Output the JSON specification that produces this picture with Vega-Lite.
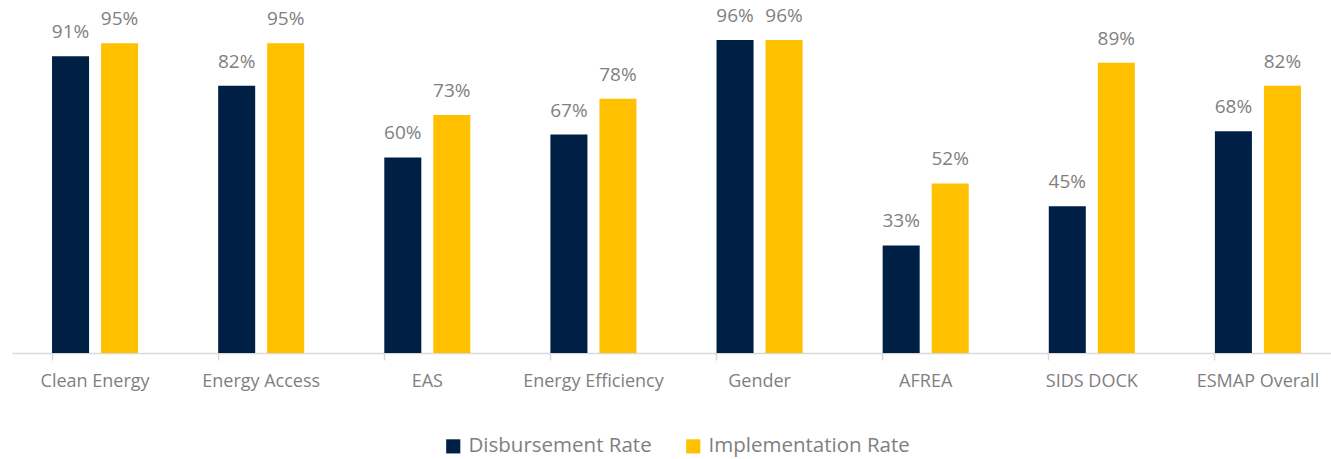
{
  "$schema": "https://vega.github.io/schema/vega-lite/v6.json",
  "width": 1329,
  "height": 326,
  "autosize": {"type": "none"},
  "padding": {"left": 12, "top": 27, "right": 0, "bottom": 106},
  "background": "white",
  "config": {"view": {"stroke": null}, "font": "Open Sans"},
  "data": {"values": [
    {"cat": "Clean Energy", "series": "Disbursement Rate", "v": 0.91},
    {"cat": "Clean Energy", "series": "Implementation Rate", "v": 0.95},
    {"cat": "Energy Access", "series": "Disbursement Rate", "v": 0.82},
    {"cat": "Energy Access", "series": "Implementation Rate", "v": 0.95},
    {"cat": "EAS", "series": "Disbursement Rate", "v": 0.60},
    {"cat": "EAS", "series": "Implementation Rate", "v": 0.73},
    {"cat": "Energy Efficiency", "series": "Disbursement Rate", "v": 0.67},
    {"cat": "Energy Efficiency", "series": "Implementation Rate", "v": 0.78},
    {"cat": "Gender", "series": "Disbursement Rate", "v": 0.96},
    {"cat": "Gender", "series": "Implementation Rate", "v": 0.96},
    {"cat": "AFREA", "series": "Disbursement Rate", "v": 0.33},
    {"cat": "AFREA", "series": "Implementation Rate", "v": 0.52},
    {"cat": "SIDS DOCK", "series": "Disbursement Rate", "v": 0.45},
    {"cat": "SIDS DOCK", "series": "Implementation Rate", "v": 0.89},
    {"cat": "ESMAP Overall", "series": "Disbursement Rate", "v": 0.68},
    {"cat": "ESMAP Overall", "series": "Implementation Rate", "v": 0.82}
  ]},
  "encoding": {
    "x": {"field": "cat", "type": "nominal", "sort": null,
      "scale": {"paddingInner": 0.482, "paddingOuter": 0.241},
      "axis": {"title": null, "labelAngle": 0, "bandPosition": 0, "domainColor": "#d9d9d9", "domainWidth": 1.5,
        "tickColor": "#d9d9d9", "tickSize": 7, "tickWidth": 1.5, "labelColor": "#7f7f7f", "labelFontSize": 18,
        "labelPadding": 12, "labelFont": "Open Sans"}},
    "xOffset": {"field": "series", "type": "nominal", "scale": {"paddingInner": 0.245, "paddingOuter": 0}},
    "y": {"field": "v", "type": "quantitative", "scale": {"domain": [0, 1]}, "axis": null}
  },
  "layer": [
    {"mark": {"type": "bar"},
      "encoding": {"color": {"field": "series", "type": "nominal",
        "scale": {"domain": ["Disbursement Rate", "Implementation Rate"], "range": ["#001f45", "#ffc000"]},
        "legend": {"title": null, "orient": "none", "legendX": 431, "legendY": 409, "direction": "horizontal",
          "symbolType": "square", "symbolSize": 200, "symbolStrokeWidth": 0, "labelFontSize": 20.5, "labelLimit": 0,
          "labelColor": "#7f7f7f", "labelFont": "Open Sans", "columnPadding": 31, "labelOffset": 5}}}},
    {"mark": {"type": "text", "dy": -24, "fontSize": 19, "color": "#7f7f7f", "font": "Open Sans"},
      "encoding": {"text": {"field": "v", "type": "quantitative", "format": ".0%"}}}
  ]
}
